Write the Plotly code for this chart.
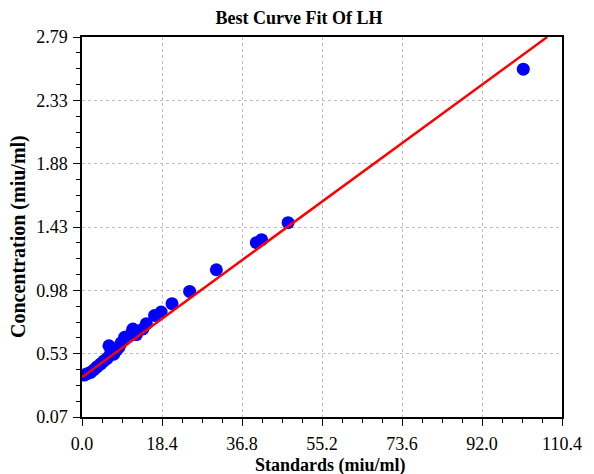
import numpy as np
import plotly.graph_objects as go

# Standards (x) and measured concentration (y)
std_x = [0.5, 1.2, 2.0, 2.8, 3.5, 4.3, 5.0, 5.8, 6.2, 6.6, 7.3, 8.0, 8.5, 9.0,
         9.8, 11.3, 11.7, 12.5, 14.0, 14.8, 16.7, 18.2, 20.7, 24.75, 30.9,
         40.1, 41.3, 47.4, 101.5]
conc_y = [0.37, 0.38, 0.39, 0.41, 0.43, 0.45, 0.47, 0.49, 0.58, 0.53, 0.52, 0.55,
          0.57, 0.60, 0.64, 0.666, 0.70, 0.66, 0.70, 0.738, 0.797, 0.821, 0.881,
          0.969, 1.124, 1.318, 1.339, 1.461, 2.56]

# Best-fit line end points
fit_x = [0.0, 107.0]
fit_y = [0.355, 2.79]

y_ticktext = ["0.07", "0.53", "0.98", "1.43", "1.88", "2.33", "2.79"]
y_min, y_max = 0.07, 2.79
x_min, x_max = 0.0, 110.4

serif = "Liberation Serif, Times New Roman, serif"

fig = go.Figure()
fig.add_trace(go.Scatter(
    x=std_x, y=conc_y, mode="markers",
    marker=dict(color="#0000FF", size=13, line=dict(width=0)),
    showlegend=False))
fig.add_trace(go.Scatter(
    x=fit_x, y=fit_y, mode="lines",
    line=dict(color="#FF0000", width=2.5),
    showlegend=False))

y_step = (y_max - y_min) / 6
fig.update_layout(
    width=594, height=474,
    margin=dict(l=82, r=32, t=37, b=57, autoexpand=False),
    paper_bgcolor="white", plot_bgcolor="white",
    font=dict(family=serif, size=18, color="black"),
    title=dict(text="<b>Best Curve Fit Of LH</b>", x=299 / 594, xref="container",
               xanchor="center", y=1 - 18 / 474, yref="container",
               yanchor="middle", font=dict(size=18, family=serif)),
    xaxis=dict(
        range=[x_min, x_max], tickmode="linear", tick0=0, dtick=18.4,
        tickformat=".1f", ticks="outside", ticklen=7, tickwidth=1.2,
        tickcolor="black", automargin=False, ticklabelstandoff=3,
        showline=True, linecolor="black", linewidth=1.5, mirror=True,
        showgrid=True, gridcolor="#bdbdbd", griddash="dot", gridwidth=1,
        zeroline=False,
        minor=dict(tickmode="linear", tick0=0, dtick=4.6, ticks="outside",
                   ticklen=4, tickwidth=1.2, tickcolor="black", showgrid=False),
        tickfont=dict(size=18, family=serif),
    ),
    yaxis=dict(
        range=[y_min, y_max], tickmode="array",
        tickvals=[y_min + i * y_step for i in range(7)], ticktext=y_ticktext,
        ticks="outside", ticklen=7, tickwidth=1.2, tickcolor="black",
        automargin=False, ticklabelstandoff=2,
        showline=True, linecolor="black", linewidth=1.5, mirror=True,
        showgrid=True, gridcolor="#bdbdbd", griddash="dot", gridwidth=1,
        zeroline=False,
        minor=dict(tickmode="linear", tick0=y_min, dtick=y_step / 4,
                   ticks="outside", ticklen=4, tickwidth=1.2, tickcolor="black",
                   showgrid=False),
        tickfont=dict(size=18, family=serif),
    ),
    annotations=[
        dict(text="<b>Standards (miu/ml)</b>", xref="paper", yref="paper",
             x=(330 - 82) / 480, y=-(465 - 417) / 380, xanchor="center",
             yanchor="middle", showarrow=False, font=dict(size=18, family=serif)),
        dict(text="<b>Concentration (miu/ml)</b>", xref="paper", yref="paper",
             x=(18 - 82) / 480, y=(417 - 237) / 380, xanchor="center",
             yanchor="middle", textangle=-90, showarrow=False,
             font=dict(size=20, family=serif)),
    ],
)

fig.write_html(
    "out.html",
    config={"displayModeBar": False},
    post_script="document.body.style.margin='0';document.body.style.overflow='hidden';",
)
